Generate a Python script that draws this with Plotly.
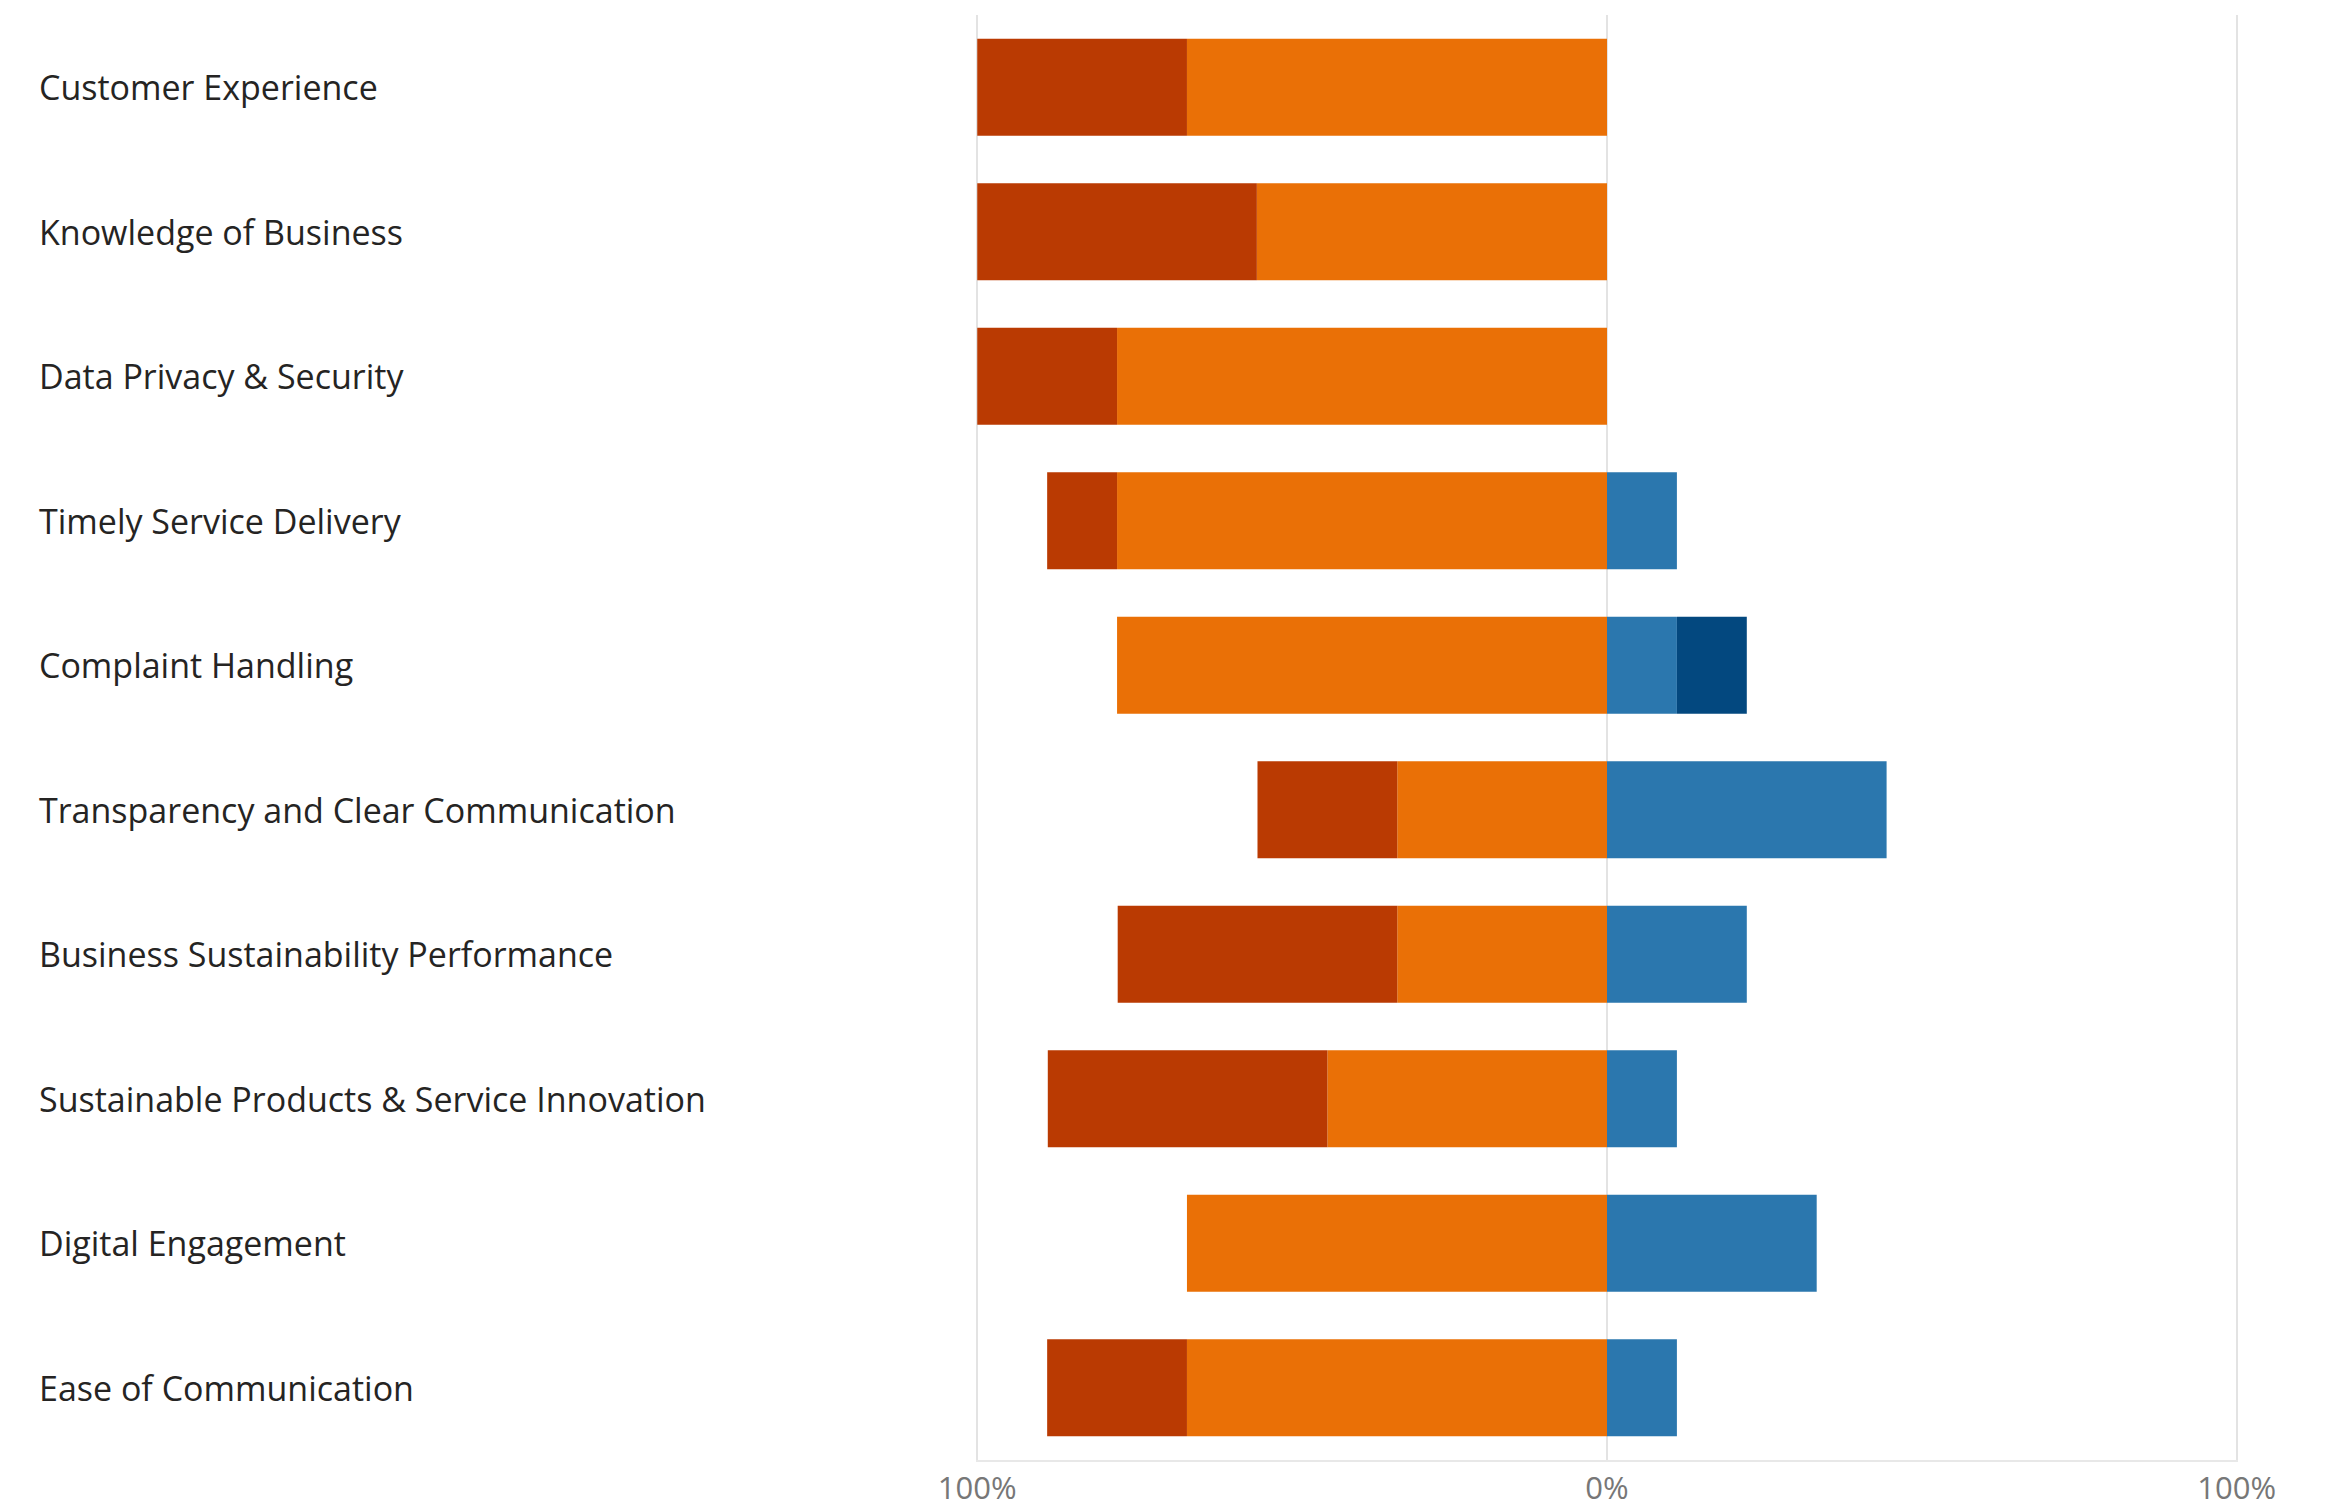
import plotly.graph_objects as go

# Survey areas, listed top to bottom
categories = [
    "Customer Experience",
    "Knowledge of Business",
    "Data Privacy & Security",
    "Timely Service Delivery",
    "Complaint Handling",
    "Transparency and Clear Communication",
    "Business Sustainability Performance",
    "Sustainable Products & Service Innovation",
    "Digital Engagement",
    "Ease of Communication",
]

# Share of responses (%) per rating band
strongly_negative = [33.3, 44.4, 22.2, 11.1, 0.0, 22.2, 44.4, 44.4, 0.0, 22.2]
negative = [66.7, 55.6, 77.8, 77.8, 77.8, 33.3, 33.3, 44.4, 66.7, 66.7]
positive = [0.0, 0.0, 0.0, 11.1, 11.1, 44.4, 22.2, 11.1, 33.3, 11.1]
strongly_positive = [0.0, 0.0, 0.0, 0.0, 11.1, 0.0, 0.0, 0.0, 0.0, 0.0]

tick_values = [-100, 0, 100]
tick_labels = ["100%", "0%", "100%"]

fig = go.Figure()

# Negative side stacks outward from zero: lighter band first, then the stronger band
fig.add_trace(go.Bar(y=categories, x=[-v for v in negative], orientation="h",
                     name="Negative", marker=dict(color="#EA7006", line=dict(width=0))))
fig.add_trace(go.Bar(y=categories, x=[-v for v in strongly_negative], orientation="h",
                     name="Strongly Negative", marker=dict(color="#BA3A02", line=dict(width=0))))
fig.add_trace(go.Bar(y=categories, x=positive, orientation="h",
                     name="Positive", marker=dict(color="#2B77AE", line=dict(width=0))))
fig.add_trace(go.Bar(y=categories, x=strongly_positive, orientation="h",
                     name="Strongly Positive", marker=dict(color="#03487F", line=dict(width=0))))

# Left-aligned category labels
plot_left, plot_right = 976, 2238
label_x = (37 - plot_left) / (plot_right - plot_left)
for cat in categories:
    fig.add_annotation(x=label_x, xref="paper", y=cat, yref="y", text=cat,
                       showarrow=False, xanchor="left", yanchor="middle",
                       font=dict(family="Open Sans", size=34, color="#252423"))

fig.update_layout(
    barmode="relative",
    bargap=0.33,
    width=2331,
    height=1507,
    margin=dict(l=plot_left, r=2331 - plot_right, t=15, b=47, autoexpand=False),
    paper_bgcolor="white",
    plot_bgcolor="white",
    showlegend=False,
    font=dict(family="Open Sans", color="#252423"),
    xaxis=dict(
        range=[-100.2, 100.2],
        tickvals=tick_values,
        ticktext=tick_labels,
        automargin=False,
        showgrid=True,
        gridcolor="#E3E3E3",
        gridwidth=2,
        zeroline=True,
        zerolinecolor="#E3E3E3",
        zerolinewidth=2,
        showline=True,
        linecolor="#E8E8E8",
        linewidth=2,
        ticks="",
        ticklabelstandoff=0,
        tickfont=dict(family="Open Sans", size=31, color="#777777"),
        fixedrange=True,
    ),
    yaxis=dict(
        autorange="reversed",
        automargin=False,
        showticklabels=False,
        showgrid=False,
        zeroline=False,
        showline=False,
        ticks="",
    ),
)

fig.write_html("out.html")
